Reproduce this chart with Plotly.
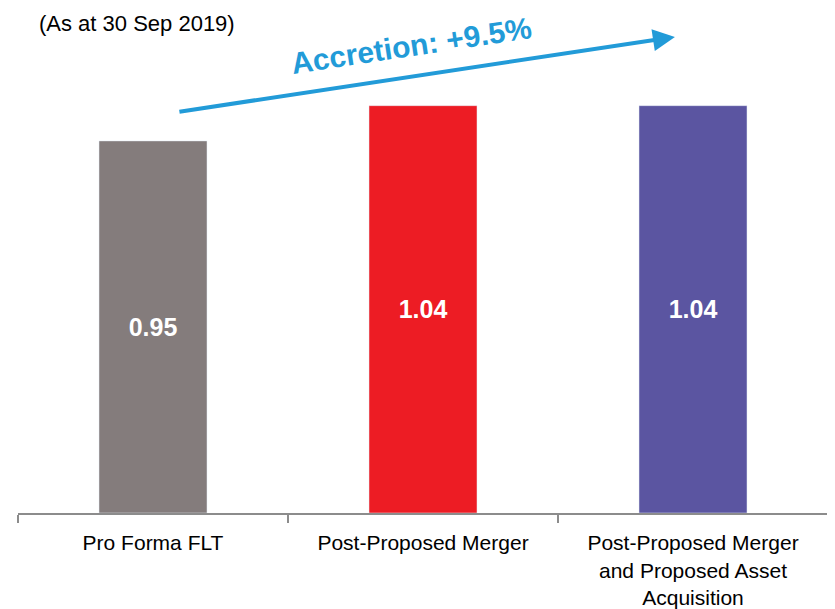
import plotly.graph_objects as go

# Datos del gráfico
categorias = [
    "Pro Forma FLT",
    "Post-Proposed Merger",
    "Post-Proposed Merger<br>and Proposed Asset<br>Acquisition",
]
valores = [0.95, 1.04, 1.04]
etiquetas = ["0.95", "1.04", "1.04"]
colores = ["#847c7c", "#ed1c24", "#5b55a1"]
titulo = "(As at 30 Sep 2019)"
texto_flecha = "Accretion: +9.5%"

azul = "#229bd8"
fuente = "Arial, Liberation Sans, sans-serif"

# Crear gráfica de barras
fig = go.Figure(data=go.Bar(
    x=categorias,
    y=valores,
    text=etiquetas,
    marker_color=colores,
    textposition="inside",
    insidetextanchor="middle",
    textfont=dict(family=fuente, size=25, color="white", weight="bold"),
    hoverinfo="skip",
))

# Configurar gráfica (el body de la página añade 8px de margen)
fig.update_layout(
    width=827,
    height=601,
    plot_bgcolor="white",
    paper_bgcolor="white",
    showlegend=False,
    bargap=0.6,
    margin=dict(l=10, r=7, t=35, b=96),
    font=dict(family=fuente, color="black"),
    xaxis=dict(
        showline=True,
        linecolor="#8c8c8c",
        linewidth=2,
        ticks="outside",
        tickson="boundaries",
        ticklen=8,
        tickwidth=2,
        tickcolor="#8c8c8c",
        tickfont=dict(size=21, color="black"),
        ticklabelstandoff=10,
        automargin=False,
        showgrid=False,
    ),
    yaxis=dict(
        range=[0, 1.2],
        visible=False,
        showgrid=False,
        zeroline=False,
    ),
    annotations=[
        # Subtítulo
        dict(
            text=titulo, xref="paper", yref="paper",
            x=0.024, y=1.072, xanchor="left", yanchor="top",
            showarrow=False, font=dict(size=22, color="black"),
        ),
        # Flecha de acreción
        dict(
            text="", xref="paper", yref="paper",
            x=0.811, y=1.013, ax=-497, ay=75,
            showarrow=True, arrowhead=2, arrowsize=1.1,
            arrowwidth=4, arrowcolor=azul, standoff=0,
        ),
        # Texto de acreción
        dict(
            text="<b>" + texto_flecha + "</b>", xref="paper", yref="paper",
            x=0.486, y=0.994, xanchor="center", yanchor="middle",
            textangle=-8.6, showarrow=False,
            font=dict(size=30, color=azul),
        ),
    ],
)

fig.write_html("out.html")
